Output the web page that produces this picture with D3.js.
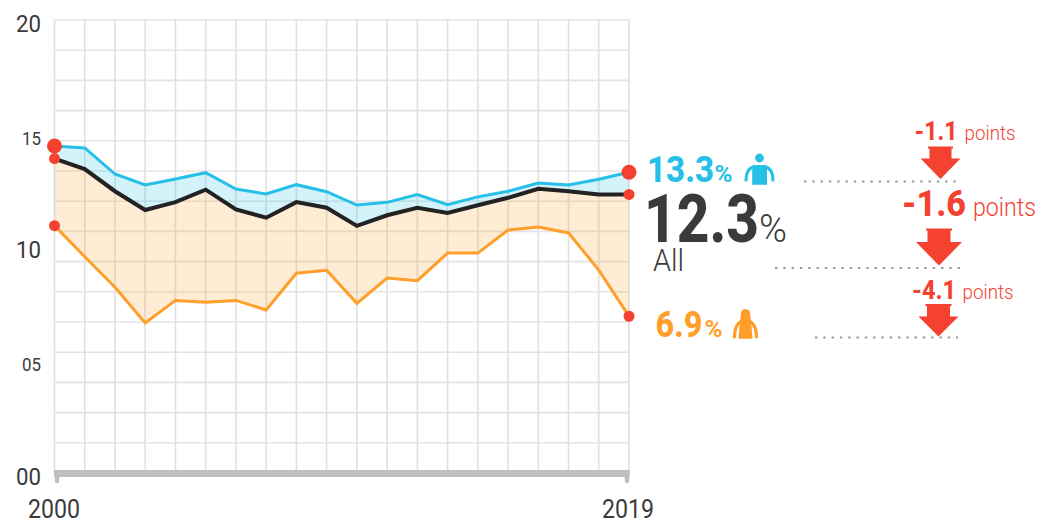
<!DOCTYPE html>
<html>
<head>
<meta charset="utf-8">
<script src="https://cdn.jsdelivr.net/npm/d3@7"></script>
<style>
html,body{margin:0;padding:0;background:#fff}
svg{display:block}
text{font-family:Roboto,sans-serif}
</style>
</head>
<body>
<svg width="1040" height="525"></svg>
<script>
const years = d3.range(2000, 2020)
const male = [14.44,14.35,13.2,12.72,12.98,13.26,12.54,12.32,12.73,12.42,11.83,11.95,12.29,11.85,12.19,12.44,12.8,12.72,12.97,13.28]
const all = [13.88,13.42,12.44,11.61,11.96,12.51,11.64,11.27,11.96,11.71,10.91,11.38,11.71,11.48,11.82,12.15,12.55,12.44,12.3,12.3]
const female = [10.92,9.55,8.2,6.62,7.62,7.54,7.62,7.2,8.82,8.95,7.49,8.61,8.49,9.71,9.71,10.73,10.86,10.6,8.96,6.92]
const yLabels = [["20",20,23],["15",15,19],["10",10,23],["05",5,19],["00",0,23]]
const xLabels = [2000, 2019]

const BLUE = "#25bfe8", ORANGE = "#ff9f2a", BLACK = "#222", RED = "#f44130", DARK = "#3a3a3a"

const svg = d3.select("svg")
const x = d3.scaleLinear().domain([2000, 2019]).range([54.5, 629])
const y = d3.scaleLinear().domain([0, 20]).range([473, 20])

// grid, 15 steps up the y axis
svg.append("g").selectAll("line").data(d3.range(0, 15).map(i => 20 - i * 20 / 15)).join("line")
	.attr("x1", x(2000)).attr("x2", x(2019))
	.attr("y1", d => y(d)).attr("y2", d => y(d))
	.attr("stroke", "#e4e4e4").attr("stroke-width", 1.6)
svg.append("g").selectAll("line").data(years).join("line")
	.attr("x1", d => x(d)).attr("x2", d => x(d))
	.attr("y1", y(20)).attr("y2", y(0))
	.attr("stroke", "#e0e0e0").attr("stroke-width", 1.6)

// bands between the lines
const band = (top, bottom) => d3.area()
	.x((d, i) => x(years[i]))
	.y0((d, i) => y(bottom[i]))
	.y1((d, i) => y(top[i]))(years)
svg.append("path").attr("d", band(male, all)).attr("fill", BLUE).attr("opacity", .2)
svg.append("path").attr("d", band(all, female)).attr("fill", ORANGE).attr("opacity", .2)

const line = d3.line().x((d, i) => x(years[i])).y(d => y(d))
function series(values, color, width){
	svg.append("path").attr("d", line(values))
		.attr("fill", "none").attr("stroke", color).attr("stroke-width", width)
}
series(female, ORANGE, 3)
series(male, BLUE, 3)
series(all, BLACK, 4)

// end dots
const dots = [[male, 7.5], [all, 5.5], [female, 5.5]]
dots.forEach(([values, r]) => {
	[0, 19].forEach(i => {
		svg.append("circle").attr("cx", x(years[i])).attr("cy", y(values[i])).attr("r", r).attr("fill", RED)
	})
})

// bottom axis with its two stubs
svg.append("line").attr("x1", x(2000) - .5).attr("x2", x(2019) + .5).attr("y1", y(0) + .5).attr("y2", y(0) + .5)
	.attr("stroke", "#bfbfbf").attr("stroke-width", 7)
xLabels.forEach((d, i) => {
	const sx = x(d) + (i ? -2 : 2.5)
	svg.append("line").attr("x1", sx).attr("x2", sx).attr("y1", y(0)).attr("y2", y(0) + 8)
		.attr("stroke", "#bfbfbf").attr("stroke-width", 4.5).attr("stroke-linecap", "round")
})

function label(str, px, py, size, len, color, weight, anchor){
	return svg.append("text").text(str)
		.attr("x", px).attr("y", py)
		.attr("font-size", size).attr("font-weight", weight || 400)
		.attr("fill", color)
		.attr("text-anchor", anchor || "start")
		.attr("textLength", len).attr("lengthAdjust", "spacingAndGlyphs")
}

yLabels.forEach(([s, v, size]) => {
	label(s, 41, y(v) + 11.5, size, size == 23 ? 25 : 19, DARK, 400, "end")
})
xLabels.forEach(d => {
	label(d, x(d) + (d == 2000 ? -.5 : -1), 518, 25, 52, DARK, 400, "middle")
})

// value call-outs
label("13.3", 647, 182, 36, 67, BLUE, 800)
label("%", 714.5, 182, 24, 18, BLUE, 700)
label("12.3", 644, 241.5, 66, 115, DARK, 800)
label("%", 759, 241.5, 38, 28, DARK, 300)
label("All", 653, 270.5, 31, 31, DARK, 300)
label("6.9", 655.5, 336.5, 36, 47, ORANGE, 800)
label("%", 704.5, 336.5, 24, 18, ORANGE, 700)

// male and female icons
const man = svg.append("g").attr("transform", "translate(759,158)").attr("fill", BLUE)
man.append("circle").attr("cx", .5).attr("r", 4.4)
man.append("path").attr("d", "M-6.8,8Q.5,6 8,8L8,26.7L-6.8,26.7Z")
man.append("path").attr("d", "M-13,22C-13,14 -10,10 -5,8.5M14,22C14,14 11,10 6,8.5")
	.attr("fill", "none").attr("stroke", BLUE).attr("stroke-width", 3.2).attr("stroke-linecap", "round")
const woman = svg.append("g").attr("transform", "translate(745.5,309)").attr("fill", ORANGE)
woman.append("path").attr("d", "M-4.8,6Q-4.8,0 0,0Q4.8,0 4.8,6L5.5,13L-5.5,13Z")
woman.append("path").attr("d", "M-5.5,11L5.5,11L7,29.7L-7,29.7Z")
woman.append("path").attr("d", "M-11,28C-11,20 -9.5,15 -4,12M11,28C11,20 9.5,15 4,12")
	.attr("fill", "none").attr("stroke", ORANGE).attr("stroke-width", 3.2).attr("stroke-linecap", "round")

// dotted guides
const guides = [[804, 958, 181.5], [775, 960, 268], [815, 958, 337.5]]
guides.forEach(([a, b, gy]) => {
	svg.append("line").attr("x1", a).attr("x2", b).attr("y1", gy).attr("y2", gy)
		.attr("stroke", "#999").attr("stroke-width", 2).attr("stroke-dasharray", "2.4 5.9")
})

// change arrows, drawn with d3.path
function arrow(tipX, tipY, headY, topY, halfHead, halfShaft){
	const p = d3.path()
	p.moveTo(tipX, tipY)
	p.lineTo(tipX - halfHead, headY)
	p.lineTo(tipX - halfShaft, headY)
	p.lineTo(tipX - halfShaft, topY + 2)
	p.lineTo(tipX - halfShaft - 1.5, topY + 2)
	p.lineTo(tipX - halfShaft - 1.5, topY)
	p.lineTo(tipX + halfShaft + 1.5, topY)
	p.lineTo(tipX + halfShaft + 1.5, topY + 2)
	p.lineTo(tipX + halfShaft, topY + 2)
	p.lineTo(tipX + halfShaft, headY)
	p.lineTo(tipX + halfHead, headY)
	p.closePath()
	svg.append("path").attr("d", p.toString()).attr("fill", RED)
}
arrow(940.5, 179, 158.5, 146.5, 20, 11)
arrow(939, 265.5, 242, 228.5, 23, 11.5)
arrow(938.5, 336.5, 316.5, 304, 20, 11.5)

label("-1.1", 914.5, 140, 25, 43, RED, 800)
label("points", 964.5, 140, 21, 51, RED, 300)
label("-1.6", 902, 216, 37, 64, RED, 800)
label("points", 973, 216, 25, 63, RED, 300)
label("-4.1", 912, 298.5, 25, 44, RED, 800)
label("points", 962.5, 298.5, 21, 51, RED, 300)
</script>
</body>
</html>
